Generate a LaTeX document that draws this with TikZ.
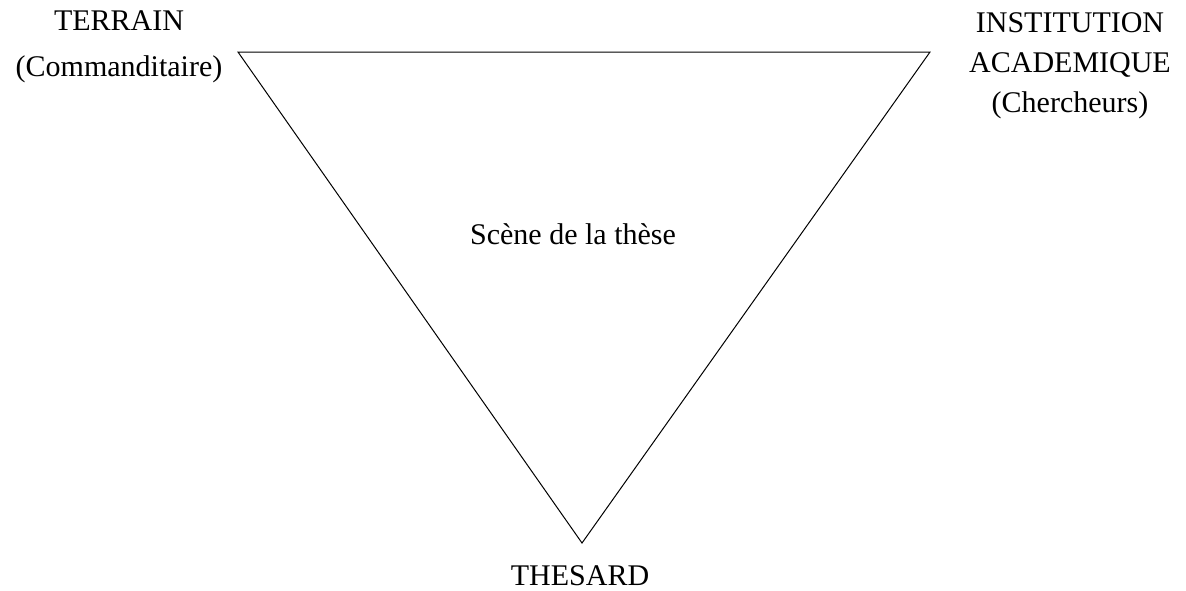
\documentclass[tikz,border=0pt]{standalone}
\usepackage{fontspec}
\setmainfont{Liberation Serif}
\usetikzlibrary{positioning}
\tikzset{
  corner/.style={font=\fontsize{15}{20}\selectfont,align=center,inner sep=0pt},
  side/.style={draw=black,line width=0.5pt,line join=miter},
}
\begin{document}
\begin{tikzpicture}[x=0.5pt,y=-0.5pt]
  \useasboundingbox[fill=white](0,0)rectangle(1186,590);
  % vertices of the triangle
  \coordinate (tl) at (238,52);
  \coordinate (tr) at (930,52);
  \coordinate (bot) at (582,543);
  \draw[side] (tl)--(tr)--(bot)--cycle;
  % labels
  \node[corner] (terrain) at (119,47) {TERRAIN\\[3pt](Commanditaire)};
  \node[corner] (institution) at (1070,66) {INSTITUTION\\ACADEMIQUE\\(Chercheurs)};
  \node[corner,anchor=base] (scene) at (573,244) {Scène de la thèse};
  \node[corner,anchor=base] (thesard) at (580,585) {THESARD};
\end{tikzpicture}
\end{document}
